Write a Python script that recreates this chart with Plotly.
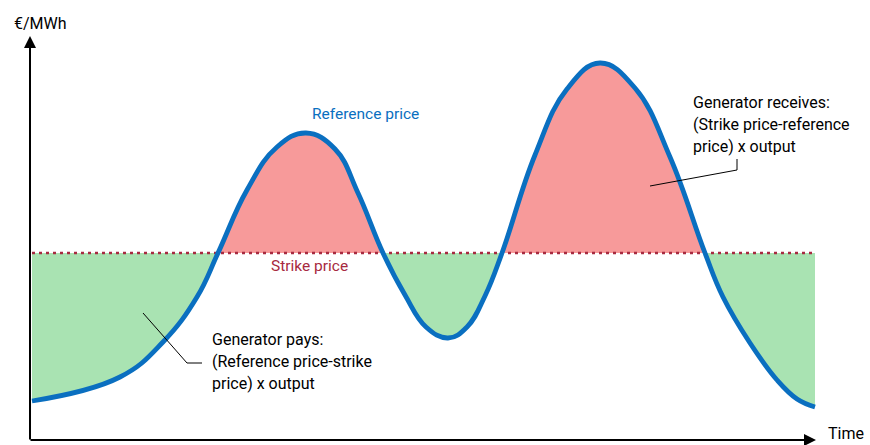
import plotly.graph_objects as go

# ---- data (time axis in arbitrary units, price in arbitrary units) ----
time = [32, 120, 163, 197, 218,
        247, 277, 306, 335, 358, 383,
        405, 426, 448, 467, 485, 502,
        535, 567, 600, 635, 670, 705,
        723, 750, 777, 797, 815]
price = [44, 68, 103, 148, 192,
         255, 298, 312, 296, 252, 192,
         150, 118, 107, 118, 149, 192,
         290, 356, 382, 357, 288, 192,
         148, 102, 65, 46, 38]
strike = 192

BLUE = "#0A6FC0"
RED_FILL = "#F79A9A"
GREEN_FILL = "#A9E3B2"
STRIKE_COL = "#A72A40"
FONT = "Roboto"
SMOOTH = 1.2

fig = go.Figure()

# split the curve into segments between strike crossings
cross = [i for i, p in enumerate(price) if p == strike]
bounds = [0] + cross + [len(price) - 1]
for a, b in zip(bounds[:-1], bounds[1:]):
    xs = time[a:b + 1]
    ys = price[a:b + 1]
    above = sum(ys) / len(ys) > strike
    fig.add_trace(go.Scatter(x=[xs[0], xs[-1]], y=[strike, strike], mode="lines",
                             line=dict(width=0), hoverinfo="skip", showlegend=False))
    fig.add_trace(go.Scatter(x=xs, y=ys, mode="lines",
                             line=dict(width=0, shape="spline", smoothing=SMOOTH),
                             fill="tonexty", fillcolor=RED_FILL if above else GREEN_FILL,
                             hoverinfo="skip", showlegend=False))

# strike price dotted line
fig.add_trace(go.Scatter(x=[time[0], time[-1]], y=[strike, strike], mode="lines",
                         line=dict(color=STRIKE_COL, width=2.5, dash="3px,4px"),
                         hoverinfo="skip", showlegend=False))
# reference price curve
fig.add_trace(go.Scatter(x=time, y=price, mode="lines",
                         line=dict(color=BLUE, width=4.8, shape="spline", smoothing=SMOOTH),
                         hoverinfo="skip", showlegend=False))

H = 445
def Y(py):
    return H - py

ann = []
# axes with arrows
ann.append(dict(x=30, y=Y(36), ax=30, ay=Y(441), xref="x", yref="y", axref="x", ayref="y",
                text="", showarrow=True, arrowhead=2, arrowsize=1.2, arrowwidth=2, arrowcolor="black"))
ann.append(dict(x=816, y=Y(440), ax=29, ay=Y(440), xref="x", yref="y", axref="x", ayref="y",
                text="", showarrow=True, arrowhead=2, arrowsize=1.2, arrowwidth=2, arrowcolor="black"))

def txt(x, py, s, color="black", size=16, xanchor="left", yanchor="middle"):
    ann.append(dict(x=x, y=Y(py), xref="x", yref="y", text=s, showarrow=False,
                    xanchor=xanchor, yanchor=yanchor, align="left",
                    font=dict(family=FONT, size=size, color=color)))

txt(12, 23, "€/MWh", size=16)
txt(826, 445, "Time", size=16, yanchor="bottom")
txt(310, 114, "Reference price", color=BLUE, size=15.5)
txt(269, 266, "Strike price", color=STRIKE_COL, size=15.5)
txt(691, 102, "Generator receives:")
txt(691, 124, "(Strike price-reference")
txt(691, 146, "price) x output")
txt(210, 339, "Generator pays:")
txt(210, 361, "(Reference price-strike")
txt(210, 383, "price) x output")

shapes = [
    dict(type="path", xref="x", yref="y",
         path=f"M 650 {Y(186)} L 737 {Y(170)} L 737 {Y(159)}",
         line=dict(color="black", width=1)),
    dict(type="path", xref="x", yref="y",
         path=f"M 143 {Y(313)} L 187 {Y(363)} L 202 {Y(363)}",
         line=dict(color="black", width=1)),
]

fig.update_layout(
    width=870, height=445,
    margin=dict(l=0, r=0, t=0, b=0),
    paper_bgcolor="white", plot_bgcolor="white",
    xaxis=dict(range=[0, 870], visible=False, fixedrange=True),
    yaxis=dict(range=[0, 445], visible=False, fixedrange=True),
    annotations=ann, shapes=shapes,
    showlegend=False,
)

fig.write_html("out.html", config={"displayModeBar": False},
               post_script="document.body.style.margin='0px';document.body.style.overflow='hidden';")
